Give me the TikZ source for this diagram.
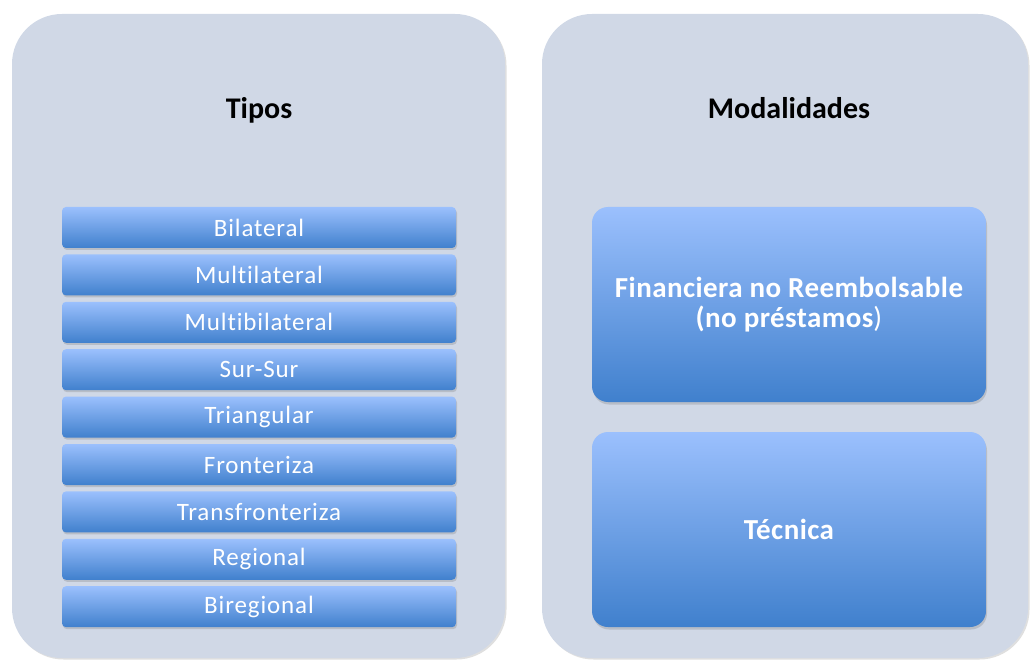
\documentclass[tikz,border=0pt]{standalone}
\usepackage{fontspec}
\setmainfont[Ligatures={NoCommon}]{Carlito}
\newfontfamily\barfont[Ligatures={NoCommon},LetterSpace=3.5]{Carlito}
\newfontfamily\boxfont[Ligatures={NoCommon},LetterSpace=1.5]{Carlito}
\usetikzlibrary{shadows}
\definecolor{panelc}{RGB}{208,216,230}
\definecolor{btop}{RGB}{155,192,253}
\definecolor{bbot}{RGB}{64,128,205}
\begin{document}
\begin{tikzpicture}[x=1pt,y=-1pt,
  panel/.style={fill=panelc, rounded corners=50pt, minimum width=#1, minimum height=644pt, inner sep=0pt,
    drop shadow={shadow xshift=1.5pt, shadow yshift=-1.5pt, opacity=0.25}},
  bar/.style={top color=btop, bottom color=bbot, rounded corners=4pt, minimum width=394pt, minimum height=41pt,
    inner sep=0pt, text=white, font=\barfont\fontsize{25}{28}\selectfont,
    drop shadow={shadow xshift=1pt, shadow yshift=-2pt, opacity=0.3}},
  bigbox/.style={top color=btop, bottom color=bbot, rounded corners=16pt, minimum width=394pt, minimum height=195pt,
    inner sep=0pt, text=white, align=center, font=\boxfont\bfseries\fontsize{29}{30}\selectfont,
    drop shadow={shadow xshift=1pt, shadow yshift=-2.5pt, opacity=0.3}},
  title/.style={font=\bfseries\fontsize{30}{32}\selectfont, text=black}
]
\useasboundingbox (0,0) rectangle (1030,660);
\node[panel=493pt] (lp) at (258.5,336) {};
\node[panel=486pt] (rp) at (785,336) {};
\node[title, anchor=base] (tipos) at (259,119) {Tipos};
\node[title, anchor=base] (modal) at (789,119) {Modalidades};
\foreach \t [count=\i from 0] in {Bilateral,Multilateral,Multibilateral,Sur-Sur,Triangular,Fronteriza,Transfronteriza,Regional,Biregional}{
  \node[bar] (b\i) at (259,227.5+47.4*\i) {\t};
}
\node[bigbox] (fin) at (789,304.5) {Financiera no Reembolsable\\(no préstamos{\mdseries)}};
\node[bigbox] (tec) at (789,529.5) {Técnica};
\end{tikzpicture}
\end{document}
